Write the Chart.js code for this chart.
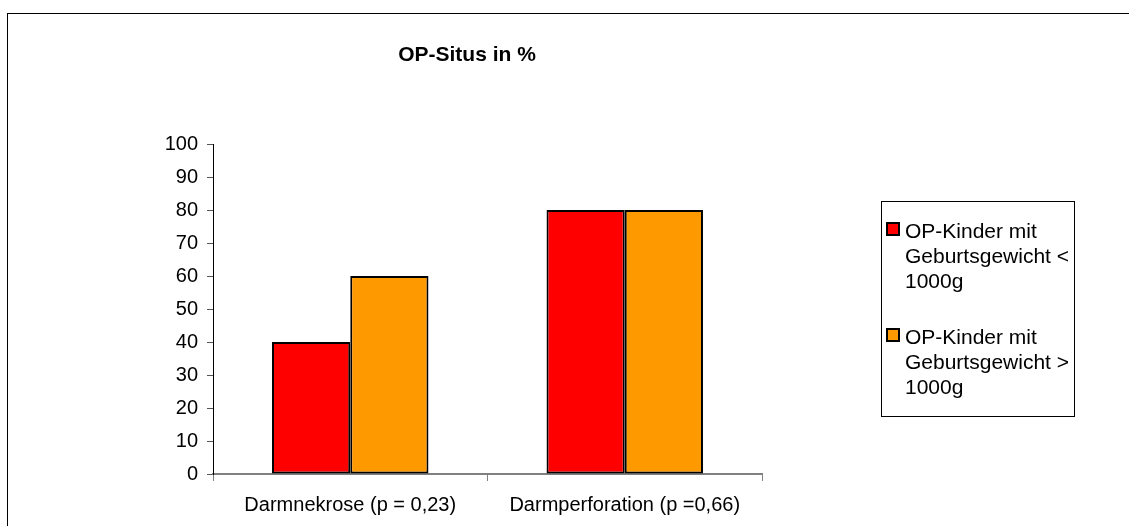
<!DOCTYPE html>
<html><head><meta charset="utf-8">
<script src="https://cdn.jsdelivr.net/npm/chart.js@4"></script>
<style>
html,body{margin:0;padding:0;background:#fff;overflow:hidden}
#wrap{position:relative;width:1129px;height:526px;overflow:hidden}
#frame{position:absolute;left:7px;top:13px;width:1200px;height:600px;border:1px solid #000;box-sizing:border-box}
canvas{position:absolute;left:0;top:0}
</style></head><body>
<div id="wrap"><div id="frame"></div><canvas id="c" width="1129" height="526"></canvas></div>
<script>
const chartTitle = 'OP-Situs in %';
const categories = ['Darmnekrose (p = 0,23)', 'Darmperforation (p =0,66)'];
const seriesNames = ['OP-Kinder mit Geburtsgewicht < 1000g', 'OP-Kinder mit Geburtsgewicht > 1000g'];
const legendLines = [['OP-Kinder mit', 'Geburtsgewicht <', '1000g'], ['OP-Kinder mit', 'Geburtsgewicht >', '1000g']];
const under1000 = [40, 80];
const over1000 = [60, 80];
const yMin = 0, yMax = 100, yStep = 10;
const seriesColors = ['#FF0000', '#FF9900'];

const FONT = "'Liberation Sans', Arial, sans-serif";

const overlay = {
  id: 'overlay',
  afterDraw(chart) {
    const ctx = chart.ctx;
    ctx.save();
    // title
    ctx.fillStyle = '#000';
    ctx.font = 'bold 21px ' + FONT;
    ctx.textAlign = 'center';
    ctx.textBaseline = 'middle';
    ctx.fillText(chartTitle, 467, 55);
    // legend box
    ctx.strokeStyle = '#000';
    ctx.lineWidth = 1;
    ctx.strokeRect(881.5, 201.5, 193, 215);
    ctx.font = '21px ' + FONT;
    ctx.textAlign = 'left';
    chart.data.datasets.forEach((ds, i) => {
      const y0 = 222 + i * 106;
      ctx.fillStyle = ds.backgroundColor;
      ctx.fillRect(886, y0, 14, 14);
      ctx.strokeStyle = '#000';
      ctx.lineWidth = 2;
      ctx.strokeRect(887, y0 + 1, 12, 12);
      ctx.fillStyle = '#000';
      legendLines[i].forEach((ln, j) => {
        ctx.fillText(ln, 905, y0 + 10 + j * 25);
      });
    });
    ctx.restore();
  }
};

new Chart(document.getElementById('c'), {
  type: 'bar',
  data: {
    labels: categories,
    datasets: [
      { label: seriesNames[0], data: under1000, backgroundColor: seriesColors[0], borderColor: '#000', borderWidth: 2, borderSkipped: false },
      { label: seriesNames[1], data: over1000, backgroundColor: seriesColors[1], borderColor: '#000', borderWidth: 2, borderSkipped: false }
    ]
  },
  options: {
    responsive: false,
    animation: false,
    devicePixelRatio: 1,
    layout: { padding: { left: 0, right: 367, top: 144, bottom: 0 } },
    plugins: { legend: { display: false }, title: { display: false }, tooltip: { enabled: false } },
    datasets: { bar: { barPercentage: 1, categoryPercentage: 0.57 } },
    scales: {
      x: {
        afterFit(s) { s.height = 52; },
        grid: { display: true, offset: true, drawOnChartArea: false, drawTicks: true, tickLength: 7, color: '#808080', lineWidth: 1 },
        border: { display: true, color: '#808080', width: 2 },
        ticks: { color: '#000', font: { family: FONT, size: 20 }, padding: 12, maxRotation: 0 }
      },
      y: {
        min: yMin, max: yMax,
        afterFit(s) { s.width = 213; },
        grid: { display: true, drawOnChartArea: false, drawTicks: true, tickLength: 6, color: '#555', lineWidth: 1 },
        border: { display: true, color: '#000', width: 1 },
        ticks: { stepSize: yStep, color: '#000', font: { family: FONT, size: 20 }, padding: 9 }
      }
    }
  },
  plugins: [overlay]
});
</script>
</body></html>
